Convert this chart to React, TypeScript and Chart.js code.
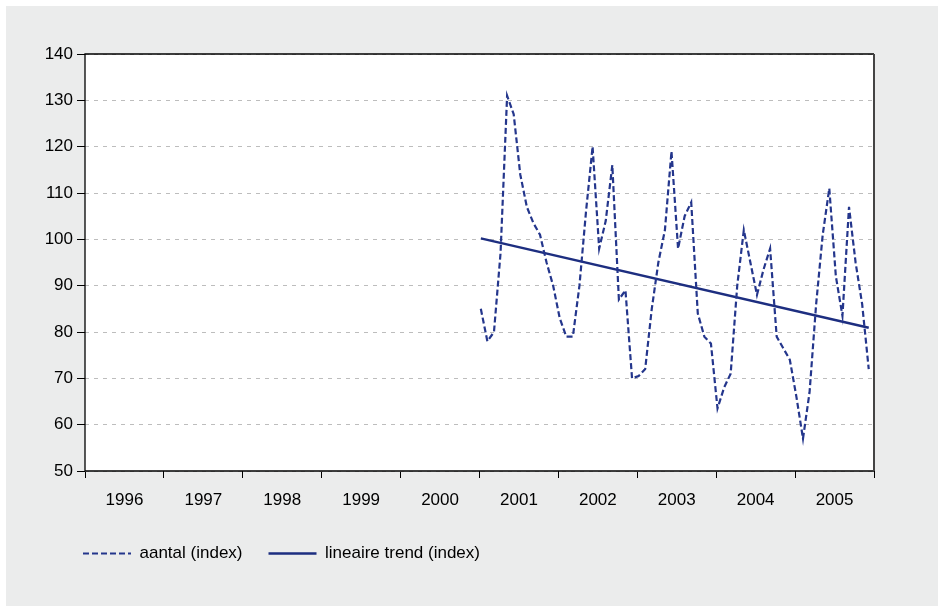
import React, { useEffect, useRef } from "react";
import { Chart, registerables } from "chart.js";

Chart.register(...registerables);

// x-axis year categories (labels centred between yearly ticks)
const years = ["1996", "1997", "1998", "1999", "2000", "2001", "2002", "2003", "2004", "2005"];
// y-axis range / ticks
const yTicks = [50, 60, 70, 80, 90, 100, 110, 120, 130, 140];

// monthly series, Jan 2001 .. Dec 2005
const seriesStartYear = 2001;
const aantal = [
  85, 78, 80, 97, 131, 127, 114, 107, 103.5, 101, 95, 90,
  83, 79, 79, 90, 106, 120, 98, 104, 116, 87, 89, 70,
  70.5, 72, 85, 95, 102, 119, 98, 105, 108, 84, 79, 77.5,
  63.5, 68, 71, 90, 102, 95, 88, 93.5, 98, 79, 76.5, 74,
  66, 57, 67, 86, 101, 111, 92, 83.5, 107, 95, 86, 72,
];
// linear trend: value at first and last month
const trendEnds = [100.2, 80.9];

const seriesNames = ["aantal (index)", "lineaire trend (index)"];

const FONT = 'Arial, "Liberation Sans", sans-serif';

export default function App() {
  const ref = useRef<HTMLCanvasElement | null>(null);

  useEffect(() => {
    if (!ref.current) return;
    const monthX = (i: number) => seriesStartYear + (i + 0.2) / 12;
    const aantalPts = aantal.map((v, i) => ({ x: monthX(i), y: v }));
    const trendPts = [
      { x: monthX(0), y: trendEnds[0] },
      { x: monthX(aantal.length - 1), y: trendEnds[1] },
    ];

    const plotBg = {
      id: "plotBg",
      afterLayout(chart: any) {
        if (chart.legend) chart.legend.left += 51;
      },
      beforeDraw(chart: any) {
        const { ctx, chartArea: a } = chart;
        ctx.save();
        ctx.fillStyle = "#ffffff";
        ctx.fillRect(a.left, a.top, a.right - a.left, a.bottom - a.top);
        ctx.restore();
      },
      afterDatasetsDraw(chart: any) {
        const { ctx, chartArea: a } = chart;
        ctx.save();
        ctx.strokeStyle = "#000";
        ctx.lineWidth = 1.3;
        ctx.beginPath();
        ctx.moveTo(a.right, a.top);
        ctx.lineTo(a.left, a.top);
        ctx.lineTo(a.left, a.bottom);
        ctx.lineTo(a.right, a.bottom);
        ctx.stroke();
        ctx.strokeStyle = "#444";
        ctx.lineWidth = 2;
        ctx.beginPath();
        ctx.moveTo(a.right, a.top);
        ctx.lineTo(a.right, a.bottom);
        ctx.stroke();
        ctx.restore();
      },
    };

    const chart = new Chart(ref.current, {
      type: "line",
      data: {
        datasets: [
          {
            label: seriesNames[0],
            data: aantalPts,
            borderColor: "#24368c",
            backgroundColor: "#24368c",
            borderWidth: 2.2,
            borderDash: [6, 3],
            pointRadius: 0,
            tension: 0,
            xAxisID: "x",
            yAxisID: "y",
          },
          {
            label: seriesNames[1],
            data: trendPts,
            borderColor: "#1d2e80",
            backgroundColor: "#1d2e80",
            borderWidth: 2.5,
            pointRadius: 0,
            tension: 0,
            xAxisID: "x",
            yAxisID: "y",
          },
        ],
      },
      options: {
        responsive: false,
        animation: false,
        events: [],
        layout: { padding: { left: 0, right: 64, top: 48, bottom: 34 } },
        scales: {
          x: {
            type: "linear",
            display: false,
            min: 1996,
            max: 2006,
          },
          x2: {
            type: "category",
            position: "bottom",
            labels: years,
            offset: true,
            grid: {
              offset: true,
              drawOnChartArea: false,
              drawTicks: true,
              tickLength: 7,
              color: "#000",
              tickColor: "#000",
            },
            border: { display: false },
            ticks: {
              color: "#000",
              font: { family: FONT, size: 17 },
              padding: 12,
              maxRotation: 0,
              autoSkip: false,
            },
            afterFit(scale: any) {
              scale.height = 48;
            },
          },
          y: {
            type: "linear",
            min: yTicks[0],
            max: yTicks[yTicks.length - 1],
            afterBuildTicks(scale: any) {
              scale.ticks = yTicks.map((v) => ({ value: v }));
            },
            grid: {
              color: "#bdbdbd",
              lineWidth: 1,
              tickLength: 8,
              tickColor: "#000",
              tickBorderDash: [],
            },
            border: { display: false, dash: [4, 5] },
            ticks: {
              color: "#000",
              font: { family: FONT, size: 17 },
              padding: 4,
            },
            afterFit(scale: any) {
              scale.width = 79;
            },
          },
        },
        plugins: {
          legend: {
            display: true,
            position: "bottom",
            align: "start",
            labels: {
              boxWidth: 48,
              boxHeight: 0,
              padding: 26,
              color: "#000",
              font: { family: FONT, size: 17 },
            },
          },
          tooltip: { enabled: false },
          title: { display: false },
        },
      },
      plugins: [plotBg],
    } as any);

    return () => chart.destroy();
  }, []);

  return (
    <div
      style={{
        position: "absolute",
        left: 6,
        top: 6,
        width: 932,
        height: 600,
        background: "#ebecec",
      }}
    >
      <canvas ref={ref} width={932} height={600} style={{ display: "block" }} />
    </div>
  );
}
